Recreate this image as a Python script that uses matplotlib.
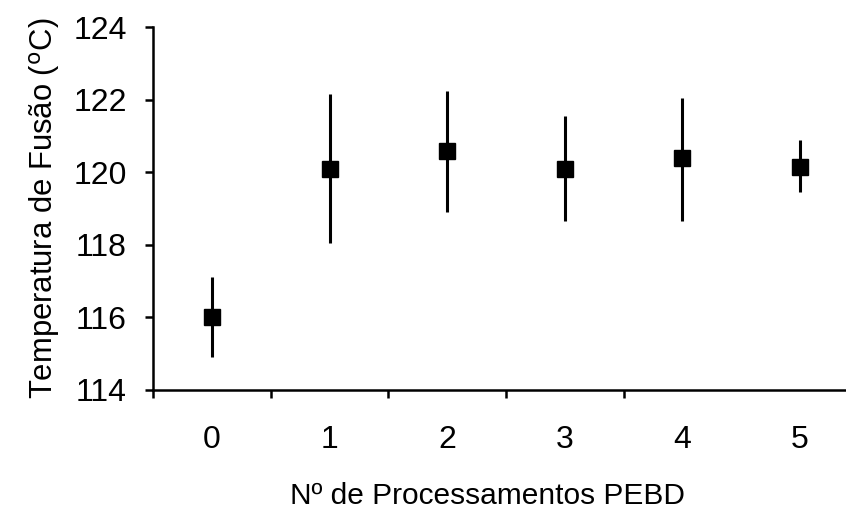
import matplotlib.pyplot as plt

plt.rcParams['font.family'] = ['Liberation Sans', 'DejaVu Sans']

# Dados
processamentos = [0, 1, 2, 3, 4, 5]
temperatura = [116.0, 120.1, 120.6, 120.1, 120.4, 120.15]
erro_inferior = [1.1, 2.05, 1.7, 1.45, 1.75, 0.7]
erro_superior = [1.1, 2.05, 1.65, 1.45, 1.65, 0.75]
rotulos_x = ["0", "1", "2", "3", "4", "5"]
ticks_y = [114, 116, 118, 120, 122, 124]

fig = plt.figure(figsize=(8.46, 5.13), dpi=100)
ax = fig.add_axes([0.181, 0.24, 0.819, 0.707])

ax.errorbar(processamentos, temperatura, yerr=[erro_inferior, erro_superior],
            fmt='s', color='black', markersize=12, elinewidth=2.2, capsize=0)

ax.set_xlim(-0.5, 5.39)
ax.set_ylim(114, 124)

# Marcas do eixo x entre as categorias, rótulos no centro
ax.set_xticks([p - 0.5 for p in processamentos[:-1]])
ax.set_xticklabels([])
ax.set_xticks(processamentos, minor=True)
ax.set_xticklabels(rotulos_x, minor=True)
ax.tick_params(axis='x', which='major', direction='out', length=6, width=1.8)
ax.tick_params(axis='x', which='minor', length=0, pad=25, labelsize=23)

ax.set_yticks(ticks_y)
ax.tick_params(axis='y', direction='out', length=6, width=1.8, pad=13, labelsize=23)

for lado in ['top', 'right']:
    ax.spines[lado].set_visible(False)
for lado in ['left', 'bottom']:
    ax.spines[lado].set_linewidth(1.8)

ax.set_xlabel("Nº de Processamentos PEBD", fontsize=21.5)
ax.xaxis.set_label_coords(0.483, -0.255)
ax.set_ylabel("Temperatura de Fusão ($^{\\rm o}$C)", fontsize=22.3, labelpad=8)

fig.savefig("out.png", dpi=100)
